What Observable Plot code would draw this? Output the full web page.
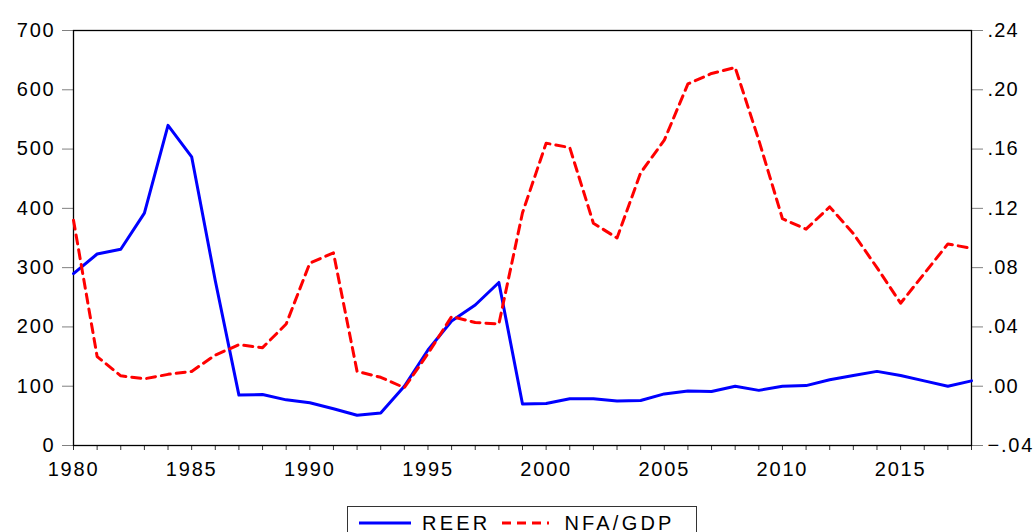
<!DOCTYPE html>
<html>
<head>
<meta charset="utf-8">
<script src="https://cdn.jsdelivr.net/npm/d3@7"></script>
<script src="https://cdn.jsdelivr.net/npm/@observablehq/plot@0.6"></script>
<style>
  body { margin: 0; background: #fff; font-family: "Liberation Sans", Arial, sans-serif; }
  #chart { position: absolute; left: 0; top: 0; }
  #legend {
    position: absolute; left: 347px; top: 506px; width: 350px; height: 34px;
    border: 1px solid #333; box-sizing: border-box; background: #fff;
    display: flex; align-items: center; font-size: 20px; letter-spacing: 3.2px; color: #000;
  }
  #legend .item { display: flex; align-items: center; }
  #legend svg { display: block; }
</style>
</head>
<body>
<div id="chart"></div>
<div id="legend"></div>
<script>
const years = [1980,1981,1982,1983,1984,1985,1986,1987,1988,1989,
               1990,1991,1992,1993,1994,1995,1996,1997,1998,1999,
               2000,2001,2002,2003,2004,2005,2006,2007,2008,2009,
               2010,2011,2012,2013,2014,2015,2016,2017,2018];
const reer = [290,323,331,392,540,487,278,85,86,77,
              72,62,51,55,100,161,210,237,275,70,
              71,79,79,75,76,87,92,91,100,93,
              100,101,111,118,125,118,109,100,109];
const nfaGdp = [0.112,0.020,0.007,0.005,0.008,0.010,0.021,0.028,0.026,0.042,
                0.083,0.090,0.010,0.006,-0.001,0.022,0.047,0.043,0.042,0.117,
                0.164,0.161,0.110,0.100,0.144,0.166,0.204,0.211,0.215,0.166,
                0.113,0.106,0.121,0.103,0.080,0.056,0.076,0.096,0.093];
const leftTicks = [0,100,200,300,400,500,600,700];
const rightTicks = [-0.04,0.00,0.04,0.08,0.12,0.16,0.20,0.24];
const xTickLabels = [1980,1985,1990,1995,2000,2005,2010,2015];
const seriesNames = ["REER","NFA/GDP"];
const colors = ["#0000ff","#ff0000"];

const data = years.map((year, i) => ({year, reer: reer[i], nfa: nfaGdp[i]}));

const lMin = d3.min(leftTicks), lMax = d3.max(leftTicks);
const rMin = d3.min(rightTicks), rMax = d3.max(rightTicks);
const toLeft = v => (v - rMin) / (rMax - rMin) * (lMax - lMin) + lMin;
const fromLeft = v => (v - lMin) / (lMax - lMin) * (rMax - rMin) + rMin;
const fmtRight = v => {
  const r = Math.round(v * 100) / 100;
  return d3.format(".2f")(r === 0 ? 0 : r).replace("0.", ".");
};

const FS = 20;
const chart = Plot.plot({
  width: 1033,
  height: 500,
  marginTop: 30,
  marginBottom: 55,
  marginLeft: 73,
  marginRight: 62,
  x: {domain: [d3.min(years), d3.max(years)]},
  y: {domain: [lMin, lMax]},
  style: {fontFamily: "'Liberation Sans', Arial, sans-serif", fontSize: FS + "px", letterSpacing: "1.8px", color: "#000", background: "#fff", overflow: "visible"},
  marks: [
    Plot.axisY({ticks: leftTicks, tickSize: 11, tickPadding: 7, label: null, fontSize: FS, stroke: "#808080", fill: "#000", tickFormat: d => String(d)}),
    Plot.axisY({anchor: "right", ticks: rightTicks.map(toLeft), tickSize: 11, tickPadding: 5, label: null, fontSize: FS, stroke: "#808080", fill: "#000", tickFormat: d => fmtRight(fromLeft(d))}),
    Plot.axisX({ticks: years, tickSize: 5, tickPadding: 11, label: null, fontSize: FS, stroke: "#333", fill: "#000", tickFormat: d => xTickLabels.includes(d) ? String(d) : ""}),
    Plot.frame({stroke: "#000", strokeWidth: 1.3}),
    Plot.line(data, {x: "year", y: "reer", stroke: colors[0], strokeWidth: 3}),
    Plot.line(data, {x: "year", y: d => toLeft(d.nfa), stroke: colors[1], strokeWidth: 3, strokeDasharray: "9,6"})
  ]
});
document.getElementById("chart").appendChild(chart);

// slightly tighter spacing for the right-hand labels so they fit the edge
chart.querySelectorAll("text").forEach(t => {
  if (t.textContent.startsWith(".") || t.textContent.startsWith("-.")) t.style.letterSpacing = "1.2px";
});

const legend = document.getElementById("legend");
legend.innerHTML = `
  <div class="item" style="margin-left:11px">
    <svg width="52" height="10"><line x1="0" y1="5" x2="52" y2="5" stroke="${colors[0]}" stroke-width="3"/></svg>
    <span style="margin-left:11px">${seriesNames[0]}</span>
  </div>
  <div class="item" style="margin-left:12px">
    <svg width="47" height="10"><line x1="0" y1="5" x2="47" y2="5" stroke="${colors[1]}" stroke-width="3" stroke-dasharray="9,6"/></svg>
    <span style="margin-left:15px">${seriesNames[1]}</span>
  </div>`;
</script>
</body>
</html>
